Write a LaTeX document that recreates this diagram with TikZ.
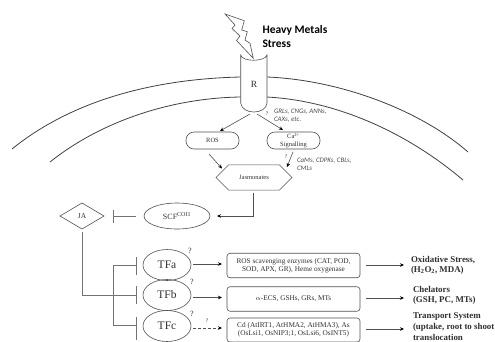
\documentclass[tikz,border=0pt]{standalone}
\usepackage{fontspec}
\setmainfont{Liberation Serif}
\newfontfamily\carl{Carlito}
\usetikzlibrary{arrows.meta,shapes.geometric,shapes.misc}
\definecolor{ln}{HTML}{505050}
\definecolor{tx}{HTML}{303030}
\tikzset{
 x=1pt,y=-1pt,
 every node/.style={text=tx,inner sep=0pt,outer sep=0pt},
 shp/.style={draw=ln,line width=.6pt},
 membrane/.style={draw=black!75,line width=.8pt},
 conn/.style={draw=ln,line width=.6pt,-{Stealth[length=4pt,width=3.5pt,color=black]}},
 inhib/.style={draw=gray!90!black,line width=.8pt},
 pill/.style={shp,rounded corners=8pt,minimum width=53pt,minimum height=17pt,font=\fontsize{6.5}{7.5}\selectfont,align=center},
 tfnode/.style={shp,ellipse,minimum width=48pt,minimum height=31pt,font=\fontsize{11.5}{12}\selectfont},
 genebox/.style={shp,rounded corners=3pt,minimum width=133pt,minimum height=24.5pt,font=\fontsize{7.3}{8}\selectfont,align=center},
 outcome/.style={font=\bfseries\fontsize{8.9}{10.6}\selectfont,align=left,anchor=west},
 small/.style={font=\carl\itshape\fontsize{6.9}{8}\selectfont,align=left,anchor=west,text=black!70},
 qm/.style={font=\fontsize{8}{9}\selectfont},
}
\begin{document}
\begin{tikzpicture}
\useasboundingbox (0,0) rectangle (495,341);
% membranes
\draw[membrane] (12,149) .. controls (70,102) and (150,79) .. (240.7,77);
\draw[membrane] (50,162) .. controls (100,122) and (170,98) .. (240.7,97);
\draw[membrane] (267,77) .. controls (340,80) and (420,110) .. (468,152);
\draw[membrane] (267,97) .. controls (340,101) and (410,135) .. (463,180);
% receptor
\draw[shp,fill=white] (240.7,55) .. controls (242,62) and (265,62) .. (267,55) -- (267,103) .. controls (266,115) and (242,115) .. (240.7,103) -- cycle;
\node[font=\fontsize{9.5}{11}\selectfont] (R) at (254,84) {R};
% lightning
\draw[shp,fill=white] (225,14) -- (244.3,20.7) -- (241.7,30) -- (247.3,31.7) -- (245,40) -- (250,43.3) -- (253.3,58.3) -- (236.5,40.5) -- (240,36) -- (232,28.5) -- (235,25) -- cycle;
\node[font=\carl\bfseries\fontsize{11.5}{13.4}\selectfont,align=left,anchor=west,text=black] (title) at (262.5,36.5) {Heavy Metals\\Stress};
% signalling nodes
\coordinate (Rl) at (250,114);
\coordinate (Rr) at (257,114);
\coordinate (rosIn) at (220,131);
\coordinate (caIn) at (283,130);
\node[pill] (ros) at (212.5,140.5) {ROS};
\node[pill] (ca) at (293.5,140.5) {Ca\textsuperscript{2+}\\Signalling};
\node[shp,chamfered rectangle,chamfered rectangle xsep=14pt,chamfered rectangle ysep=10.5pt,minimum width=76pt,minimum height=21pt,font=\fontsize{6.5}{8}\selectfont] (jas) at (254,177.5) {Jasmonates};
\coordinate (rosOut) at (209,154);
\coordinate (jasL) at (222,168.5);
\coordinate (caOut) at (293,152);
\coordinate (jasR) at (287,167);
\coordinate (jasD) at (253,193);
\draw[conn] (Rl) -- (rosIn);
\draw[conn] (Rr) -- (caIn);
\draw[conn] (rosOut) -- (jasL);
\draw[conn] (caOut) -- (jasR);
\node[qm,font=\fontsize{5.5}{6}\selectfont] (q1) at (267,113.5) {?};
\node[qm,font=\fontsize{5.5}{6}\selectfont] (q2) at (286,157) {?};
\node[small] (chan) at (274,116) {GRLs, CNGs, ANNs,\\CAXs, etc.};
\node[small] (sens) at (297,164) {CaMs, CDPKs, CBLs,\\CMLs};
% JA module
\node[shp,ellipse,minimum width=66pt,minimum height=26pt,font=\fontsize{8}{10}\selectfont] (scf) at (177,216) {SCF\textsuperscript{COI1}};
\node[shp,diamond,aspect=1.7,minimum width=44pt,minimum height=26pt,font=\fontsize{7.5}{9}\selectfont] (ja) at (82,216) {JA};
\coordinate (scfIn) at (217,216);
\draw[conn] (jasD) |- (scfIn);
\coordinate (scfBar) at (136,216);
\coordinate (jaBar) at (113,216);
\draw[inhib] (scfBar) -- (jaBar);
\draw[inhib] (113,210) -- (113,223);
% TFs
\node[tfnode] (tfa) at (167,265) {TFa};
\node[tfnode] (tfb) at (167,295) {TFb};
\node[tfnode] (tfc) at (167,326) {TFc};
\node[qm] (qa) at (190,251) {?};
\node[qm] (qb) at (192,282) {?};
\node[qm] (qc) at (192,314) {?};
\node[qm,font=\fontsize{5.5}{6}\selectfont] (qd) at (207,321) {?};
\coordinate (jaDown) at (82,232);
\coordinate (barB) at (136,295);
\coordinate (barA) at (136,265);
\coordinate (barC) at (136,325);
\coordinate (spine) at (113,265);
\coordinate (spineEnd) at (113,325);
\draw[inhib] (jaDown) |- (barB);
\draw[inhib] (barA) -- (spine) -- (spineEnd) -- (barC);
\draw[inhib] (136,257) -- (136,275);
\draw[inhib] (136,286) -- (136,304);
\draw[inhib] (136,317) -- (136,340);
% gene boxes
\node[genebox] (ba) at (293.5,265.5) {ROS scavenging enzymes (CAT, POD,\\SOD, APX, GR), Heme oxygenase};
\node[genebox] (bb) at (293.5,299) {$\alpha$-ECS, GSHs, GRs, MTs};
\node[genebox,minimum height=24pt] (bc) at (293.5,330) {Cd (AtIRT1, AtHMA2, AtHMA3), As\\(OsLsi1, OsNIP3;1, OsLsi6, OsINT5)};
\coordinate (ia) at (222,264);
\coordinate (ib) at (222,297.5);
\coordinate (ic) at (222,328);
\draw[conn] (193,264) -- (ia);
\draw[conn] (193,297.5) -- (ib);
\draw[conn,densely dashed] (193,328) -- (ic);
% outcomes
\node[outcome] (oa) at (411,265.5) {Oxidative Stress,\\(H\textsubscript{2}O\textsubscript{2}, MDA)};
\node[outcome] (ob) at (413,295.5) {Chelators\\(GSH, PC, MTs)};
\node[outcome] (oc) at (413,326.5) {Transport System\\(uptake, root to shoot\\translocation};
\coordinate (ra) at (366,265);
\coordinate (rb) at (366,298);
\coordinate (rc) at (366,329);
\draw[conn] (ra) -- (404,265);
\draw[conn] (rb) -- (404,298);
\draw[conn] (rc) -- (404,329);
\end{tikzpicture}
\end{document}
